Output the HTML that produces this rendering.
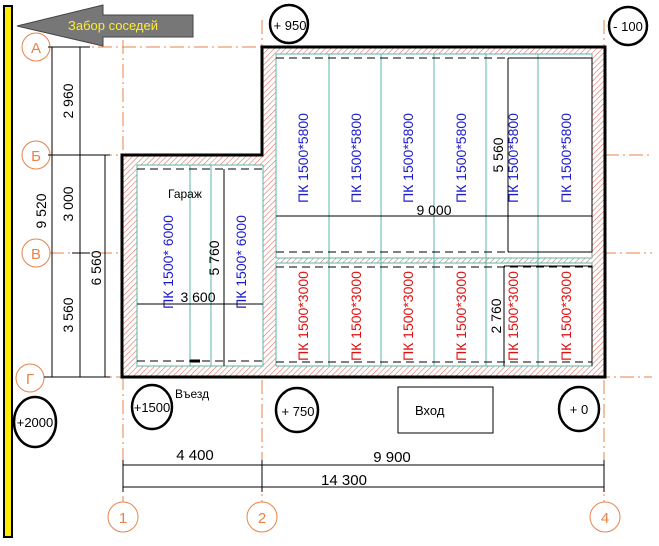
<!DOCTYPE html>
<html><head><meta charset="utf-8"><style>html,body{margin:0;padding:0;background:#fff;}svg{display:block;}</style></head>
<body>
<svg width="659" height="546" viewBox="0 0 659 546" xmlns="http://www.w3.org/2000/svg" font-family="Liberation Sans, DejaVu Sans, sans-serif">
<defs>
<pattern id="h" width="4" height="4" patternUnits="userSpaceOnUse" patternTransform="rotate(45)">
<rect width="4" height="4" fill="#fff"/><line x1="0" y1="0" x2="0" y2="4" stroke="#e0665a" stroke-width="1.1"/>
</pattern>
</defs>
<rect x="0" y="0" width="659" height="546" fill="#fff"/>
<rect x="3" y="5" width="10" height="533" fill="#000"/>
<rect x="5" y="7" width="6" height="529" fill="#ffec00"/>
<polygon points="17,26 103,5 103,15 193,15 193,37 103,37 103,46" fill="#777" stroke="#444" stroke-width="1"/>
<text x="68" y="30" font-size="13" fill="#ffee33">Забор соседей</text>

<g stroke="#e8834a" stroke-width="1" stroke-dasharray="14,4,2,4" fill="none">
<line x1="50" y1="47" x2="262" y2="47"/>
<line x1="50" y1="155" x2="122" y2="155"/>
<line x1="605" y1="155" x2="652" y2="155"/>
<line x1="50" y1="253" x2="652" y2="253"/>
<line x1="44" y1="377" x2="652" y2="377"/>
<line x1="123" y1="40" x2="123" y2="503"/>
<line x1="262" y1="20" x2="262" y2="503"/>
<line x1="604" y1="20" x2="604" y2="503"/>
</g>
<g fill="#fff" stroke="#e8834a" stroke-width="1">
<circle cx="36" cy="47" r="14"/><circle cx="36" cy="155" r="14"/><circle cx="36" cy="253" r="14"/><circle cx="30" cy="378" r="14"/>
<circle cx="123" cy="517" r="15"/><circle cx="262" cy="517" r="15"/><circle cx="605" cy="517" r="15"/>
</g>
<g fill="#e8834a" font-size="15" text-anchor="middle">
<text x="36" y="53">А</text><text x="36" y="161">Б</text><text x="36" y="259">В</text><text x="30" y="384">Г</text>
<text x="123" y="523">1</text><text x="262" y="523">2</text><text x="605" y="523">4</text>
</g>

<path d="M262,47 H605 V377 H122 V155 H262 Z" fill="url(#h)" stroke="#000" stroke-width="3"/>
<rect x="276" y="54" width="316" height="204" fill="#fff"/>
<rect x="276" y="263" width="316" height="103" fill="#fff"/>
<rect x="137" y="165" width="126" height="201" fill="#fff"/>

<g stroke="#5bb5a5" stroke-width="1" fill="none">
<rect x="276" y="54" width="316" height="204"/>
<rect x="276" y="263" width="316" height="103"/>
<line x1="329" y1="54" x2="329" y2="366"/><line x1="381" y1="54" x2="381" y2="366"/>
<line x1="434" y1="54" x2="434" y2="366"/><line x1="486" y1="54" x2="486" y2="366"/>
<line x1="538" y1="54" x2="538" y2="366"/>
<rect x="137" y="165" width="126" height="201"/>
<line x1="190" y1="165" x2="190" y2="366"/><line x1="211" y1="165" x2="211" y2="366"/>
</g>
<g stroke="#000" stroke-width="1" stroke-dasharray="8,5" fill="none">
<line x1="276" y1="58" x2="592" y2="58"/><line x1="276" y1="252" x2="592" y2="252"/>
<line x1="276" y1="267" x2="592" y2="267"/><line x1="276" y1="362" x2="592" y2="362"/>
<line x1="137" y1="169" x2="263" y2="169"/><line x1="137" y1="361" x2="263" y2="361"/>
</g>
<g stroke="#000" stroke-width="1" fill="none">
<polyline points="508,58 592,58 592,252 508,252"/>
<polyline points="504,266 592,266 592,366"/>
<line x1="190" y1="361" x2="200" y2="361" stroke-width="3"/>
</g>

<g font-size="14" fill="#1a1acc" text-anchor="middle">
<text transform="translate(308,158) rotate(-90)">ПК 1500*5800</text>
<text transform="translate(361,158) rotate(-90)">ПК 1500*5800</text>
<text transform="translate(413,158) rotate(-90)">ПК 1500*5800</text>
<text transform="translate(466,158) rotate(-90)">ПК 1500*5800</text>
<text transform="translate(518,158) rotate(-90)">ПК 1500*5800</text>
<text transform="translate(571,158) rotate(-90)">ПК 1500*5800</text>
<text transform="translate(173,262) rotate(-90)">ПК 1500* 6000</text>
<text transform="translate(246,262) rotate(-90)">ПК 1500* 6000</text>
</g>
<g font-size="14" fill="#e01010" text-anchor="middle">
<text transform="translate(308,316) rotate(-90)">ПК 1500*3000</text>
<text transform="translate(361,316) rotate(-90)">ПК 1500*3000</text>
<text transform="translate(413,316) rotate(-90)">ПК 1500*3000</text>
<text transform="translate(466,316) rotate(-90)">ПК 1500*3000</text>
<text transform="translate(518,316) rotate(-90)">ПК 1500*3000</text>
<text transform="translate(571,316) rotate(-90)">ПК 1500*3000</text>
</g>
<text x="168" y="198" font-size="12" fill="#000">Гараж</text>

<g stroke="#000" stroke-width="1" fill="none">
<line x1="276" y1="216" x2="592" y2="216"/>
<line x1="508" y1="58" x2="508" y2="252"/>
<line x1="504" y1="266" x2="504" y2="366"/>
<line x1="137" y1="304" x2="263" y2="304"/>
<line x1="224" y1="169" x2="224" y2="366"/>
</g>
<g font-size="14" fill="#000" text-anchor="middle">
<text x="434" y="215">9 000</text>
<text transform="translate(503,155) rotate(-90)">5 560</text>
<text transform="translate(501,316) rotate(-90)">2 760</text>
<text x="198" y="302">3 600</text>
<text transform="translate(219,258) rotate(-90)">5 760</text>
</g>

<g stroke="#000" stroke-width="1" fill="none">
<line x1="52" y1="47" x2="52" y2="377"/>
<line x1="80" y1="47" x2="80" y2="377"/>
<line x1="105" y1="155" x2="105" y2="377"/>
<line x1="48" y1="47" x2="90" y2="47"/>
<line x1="48" y1="155" x2="110" y2="155"/>
<line x1="72" y1="253" x2="90" y2="253"/>
<line x1="44" y1="377" x2="110" y2="377"/>
</g>
<g font-size="14" fill="#000" text-anchor="middle">
<text transform="translate(46,211) rotate(-90)">9 520</text>
<text transform="translate(73,101) rotate(-90)">2 960</text>
<text transform="translate(73,204) rotate(-90)">3 000</text>
<text transform="translate(73,315) rotate(-90)">3 560</text>
<text transform="translate(101,268) rotate(-90)">6 560</text>
</g>

<g stroke="#000" stroke-width="1" fill="none">
<line x1="123" y1="465" x2="604" y2="465"/>
<line x1="123" y1="487" x2="604" y2="487"/>
<line x1="123" y1="460" x2="123" y2="492"/><line x1="262" y1="460" x2="262" y2="492"/><line x1="604" y1="460" x2="604" y2="492"/>
</g>
<g font-size="15" fill="#000" text-anchor="middle">
<text x="195" y="460">4 400</text><text x="392" y="462">9 900</text><text x="344" y="485">14 300</text>
</g>

<g fill="none" stroke="#000" stroke-width="2.5">
<ellipse cx="289" cy="24" rx="19" ry="19"/>
<ellipse cx="628" cy="26" rx="19" ry="19"/>
<ellipse cx="35" cy="422" rx="21" ry="25"/>
<ellipse cx="152" cy="407" rx="20" ry="22"/>
<ellipse cx="297" cy="410" rx="21" ry="22"/>
<ellipse cx="579" cy="409" rx="20" ry="22"/>
</g>
<g font-size="13" fill="#000" text-anchor="middle">
<text x="290" y="30">+ 950</text><text x="628" y="31">- 100</text>
<text x="35" y="427">+2000</text><text x="152" y="412">+1500</text>
<text x="298" y="416">+ 750</text><text x="579" y="414">+ 0</text>
</g>
<text x="175" y="398" font-size="12" fill="#000">Въезд</text>
<rect x="398" y="387" width="95" height="46" fill="none" stroke="#000" stroke-width="1"/>
<text x="415" y="415" font-size="13" fill="#000">Вход</text>
</svg>
</body></html>
